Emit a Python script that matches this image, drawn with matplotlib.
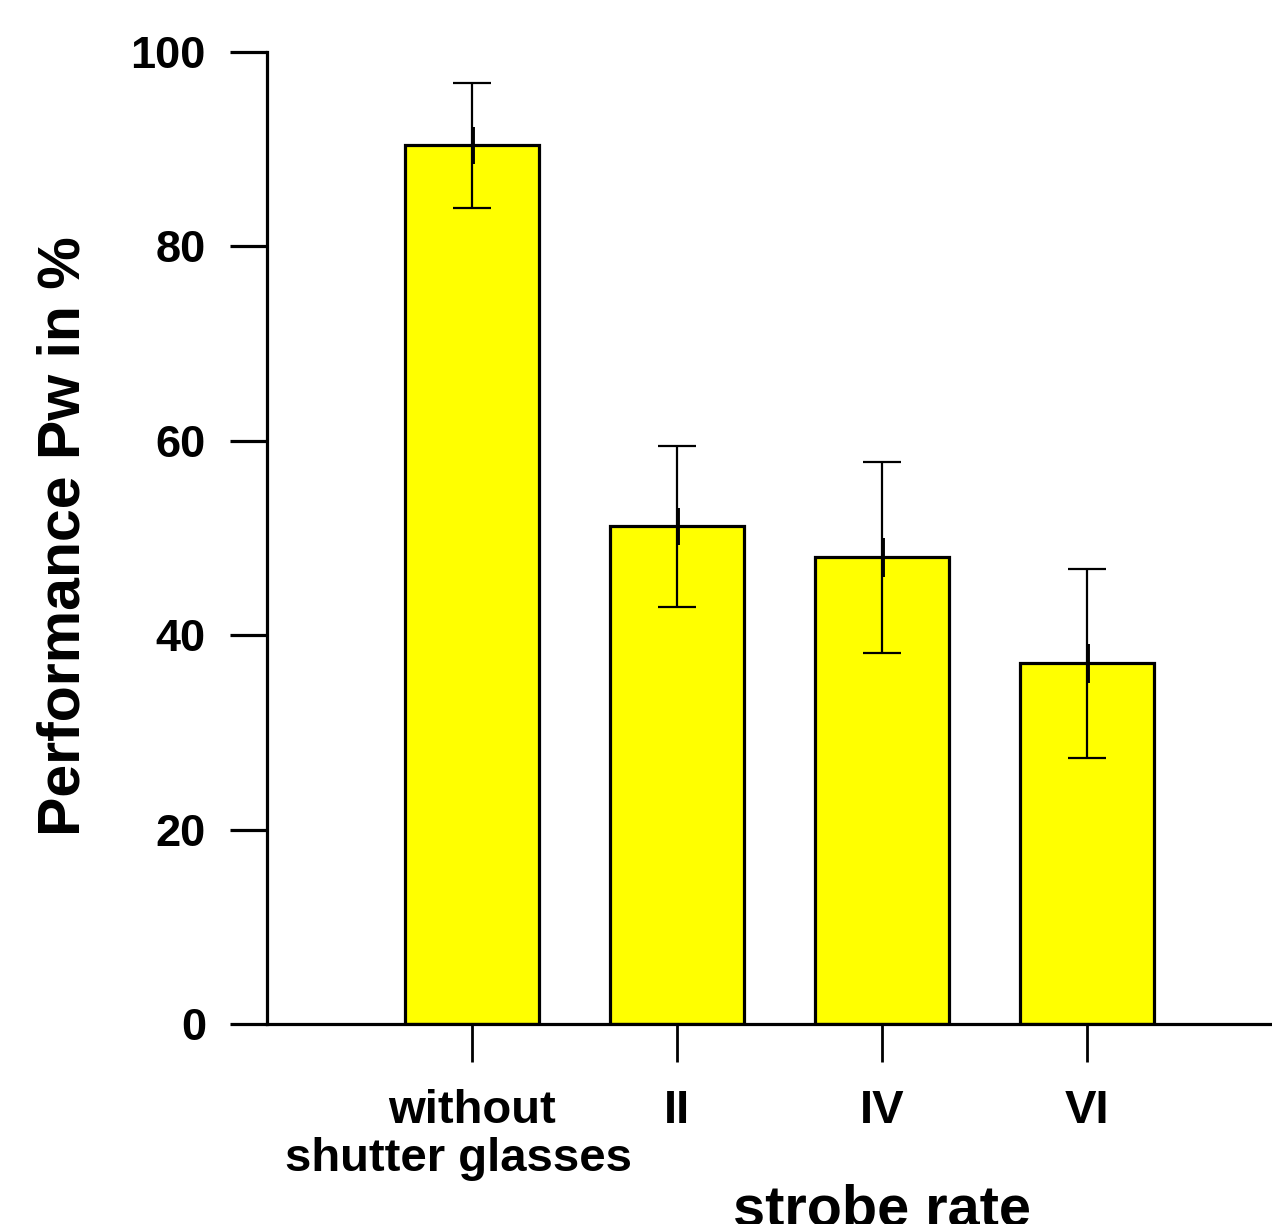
import matplotlib
matplotlib.use("Agg")
import matplotlib.pyplot as plt
import matplotlib.transforms as mtransforms

categories = ["without\nshutter glasses  ", "II", "IV", "VI"]
values = [90.4, 51.2, 48.0, 37.1]
errors = [6.4, 8.3, 9.8, 9.7]
inner_errors = [1.9, 1.9, 2.0, 2.0]
y_ticks = [0, 20, 40, 60, 80, 100]

plt.rcParams['font.family'] = ['Liberation Sans', 'DejaVu Sans']
plt.rcParams['font.weight'] = 'bold'

fig = plt.figure(figsize=(12.72, 12.24), dpi=100)
ax = fig.add_axes([267/1272, 1 - 1024/1224, 1 - 267/1272, (1024 - 52)/1224])

x = list(range(1, len(values) + 1))
ax.bar(x, values, width=0.65, color='#FFFF00', edgecolor='black', linewidth=2.3, zorder=2)
ax.errorbar(x, values, yerr=errors, fmt='none', ecolor='black', elinewidth=1.6,
            capsize=13.5, capthick=1.6, zorder=3)
ax.errorbar([xi + 0.006 for xi in x], values, yerr=inner_errors, fmt='none', ecolor='black',
            elinewidth=2.8, capsize=0, zorder=3)

ax.set_xlim(0, 4.902)
ax.set_ylim(0, 100)
ax.set_yticks(y_ticks)
ax.set_yticklabels([str(v) for v in y_ticks])
ax.set_xticks(x)
ax.set_xticklabels(categories, linespacing=1.12)

for s in ['top', 'right']:
    ax.spines[s].set_visible(False)
for s in ['left', 'bottom']:
    ax.spines[s].set_linewidth(2.3)

ax.tick_params(axis='y', direction='out', length=27, width=2.3, pad=17, labelsize=32.5)
ax.tick_params(axis='x', direction='out', length=27, width=2.0, pad=20, labelsize=34)
for lab in ax.get_xticklabels() + ax.get_yticklabels():
    lab.set_fontweight('bold')

fig.text(64/1272, 1 - 536.5/1224, "Performance Pw in %", rotation=90, ha='center', va='center',
         fontsize=42.5, fontweight='bold')

trans = mtransforms.blended_transform_factory(ax.transData, fig.transFigure)
ax.text(3, 1 - 1226/1224, "strobe rate", transform=trans, ha='center', va='baseline',
        fontsize=41.5, fontweight='bold', clip_on=False)

fig.savefig("out.png", dpi=100)
